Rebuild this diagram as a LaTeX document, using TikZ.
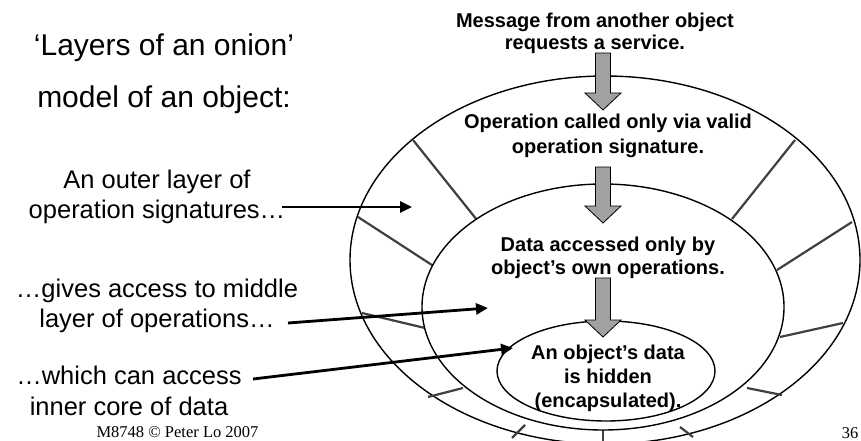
\documentclass[tikz,border=0pt]{standalone}
\usepackage{fontspec}
\setmainfont{Liberation Sans}
\newfontfamily\footfont{Liberation Serif}
\usetikzlibrary{arrows.meta}
\newcommand{\layerellipse}[3]% center, xdim, ydim
{(#1) ellipse (#2pt and #3pt)
}
\newcommand{\grayarrow}[3]% x, top, tip
{(#1-7.5,#2) -- (#1+7.5,#2) -- (#1+7.5,#3-17) -- (#1+18,#3-17) -- (#1,#3) -- (#1-18,#3-17) -- (#1-7.5,#3-17) -- cycle
}
\tikzset{
	spoke/.style={draw=black!75, line width=2.2pt},
	pointer/.style={line width=2.8pt, -{Triangle[length=12pt,width=11pt]}},
	boldtext/.style={font=\fontsize{20}{24}\selectfont\bfseries, align=center, inner sep=0pt},
	plaintext/.style={font=\fontsize{25.5}{30.5}\selectfont, align=center, inner sep=0pt}
}

\begin{document}
\begin{tikzpicture}[x=1pt,y=-1pt]
	\useasboundingbox (0,0) rectangle (861,441);
	\clip (0,0) rectangle (861,441);
	% the three layers
	\filldraw[fill=white, line width=1.4pt] \layerellipse{605,260}{255}{184};
	\foreach \ax/\ay/\bx/\by in {413/140/477/220, 358/217/435/267, 362/313/425/328,
		428/397/463/388, 512/438/525/425, 603/446/603/430, 693/437/680/427,
		782/395/747/388, 843/323/780/337, 852/222/777/270, 795/140/732/219}
		\draw[spoke] (\ax,\ay) -- (\bx,\by);
	\filldraw[fill=white, line width=1.4pt] \layerellipse{603,307}{181}{123};
	\filldraw[fill=white, line width=1.4pt] \layerellipse{606,371}{109}{50};
	% texts inside
	\node[boldtext, font=\fontsize{20}{22}\selectfont\bfseries] (msg) at (595,33){Message from another object\\requests a service.};%top
	\node[boldtext, font=\fontsize{20}{25}\selectfont\bfseries] (opsig) at (608,136){Operation called only via valid\\operation signature.};
	\node[boldtext, font=\fontsize{20}{23}\selectfont\bfseries] (dataacc) at (608,258){Data accessed only by\\object’s own operations.};
	\node[boldtext] (hidden) at (608,378){An object’s data\\is hidden\\(encapsulated).};
	% gray block arrows
	\filldraw[fill=black!37, line width=0.8pt] \grayarrow{603}{53}{110};
	\filldraw[fill=black!37, line width=0.8pt] \grayarrow{603}{167}{223};
	\filldraw[fill=black!37, line width=0.8pt] \grayarrow{603}{278}{337};
	% labels on the left
	\node[plaintext, font=\fontsize{30}{52}\selectfont] (title) at (164,74){‘Layers of an onion’\\model of an object:};
	\node[plaintext] (outerlbl) at (157,197){An outer layer of\\operation signatures…};
	\node[plaintext] (middlelbl) at (157,306){…gives access to middle\\layer of operations…};
	\node[plaintext] (innerlbl) at (129,391){…which can access\\inner core of data};
	\coordinate (o1) at (282,207);
	\coordinate (o2) at (412,207);
	\coordinate (m1) at (288,323);
	\coordinate (m2) at (488,308);
	\coordinate (i1) at (253,379);
	\coordinate (i2) at (513,348);
	\draw[pointer] (o1) -- (o2);
	\draw[pointer] (m1) -- (m2);
	\draw[pointer] (i1) -- (i2);
	% footer
	\node[anchor=base, font=\footfont\fontsize{16.5}{18}\selectfont] (foot) at (177.5,437){M8748 © Peter Lo 2007};
	\node[anchor=base, font=\footfont\fontsize{16.5}{18}\selectfont] (pagenum) at (850,438){36};
\end{tikzpicture}
\end{document}
